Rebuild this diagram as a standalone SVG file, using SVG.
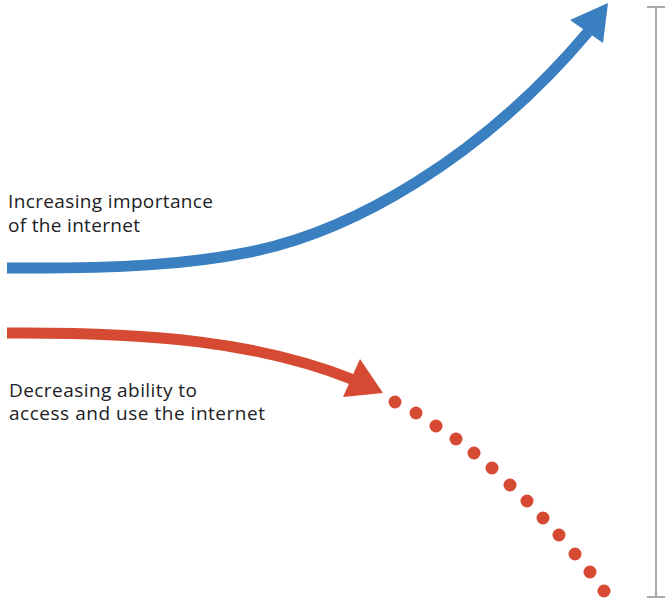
<svg xmlns="http://www.w3.org/2000/svg" width="665" height="602" viewBox="0 0 665 602">
<style>
.lbl{font-family:"Open Sans","Liberation Sans",sans-serif;font-size:19px;fill:#202124}
.blue{fill:none;stroke:#3a80c1;stroke-width:11}
.red{fill:none;stroke:#d64a33;stroke-width:11}
.dot{fill:#d64a33}
.br{fill:none;stroke:#a9a9ad;stroke-width:2}
</style>
<rect width="665" height="602" fill="#ffffff"/>
<g id="connectors">
<g id="blue-arrow">
<path class="blue" d="M7,268 C120,269 190,264 250,252 C350,232 480,160 588,32"/>
<polygon points="608,3 570,20 603,43" fill="#3a80c1"/>
</g>
<g id="red-arrow">
<path class="red" d="M7,333 C150,332 260,342 354,380"/>
<polygon points="383,393 360,359 343,397" fill="#d64a33"/>
<g id="red-dots">
<circle class="dot" cx="395" cy="402" r="6.5"/>
<circle class="dot" cx="416" cy="413" r="6.5"/>
<circle class="dot" cx="436" cy="426" r="6.5"/>
<circle class="dot" cx="456" cy="439" r="6.5"/>
<circle class="dot" cx="474" cy="453" r="6.5"/>
<circle class="dot" cx="492" cy="468" r="6.5"/>
<circle class="dot" cx="510" cy="485" r="6.5"/>
<circle class="dot" cx="527" cy="501" r="6.5"/>
<circle class="dot" cx="543" cy="518" r="6.5"/>
<circle class="dot" cx="559" cy="535" r="6.5"/>
<circle class="dot" cx="575" cy="554" r="6.5"/>
<circle class="dot" cx="590" cy="572" r="6.5"/>
<circle class="dot" cx="604" cy="591" r="6.5"/>
</g>
</g>
<g id="bracket">
<path class="br" d="M656,7 V597 M647,7 H665 M647,597 H665"/>
</g>
</g>
<g id="label-increasing">
<text class="lbl" x="8" y="208" textLength="205" lengthAdjust="spacing">Increasing importance</text>
<text class="lbl" x="8" y="232" textLength="132" lengthAdjust="spacing">of the internet</text>
</g>
<g id="label-decreasing">
<text class="lbl" x="9" y="397" textLength="188" lengthAdjust="spacing">Decreasing ability to</text>
<text class="lbl" x="9" y="420" textLength="256" lengthAdjust="spacing">access and use the internet</text>
</g>
</svg>
